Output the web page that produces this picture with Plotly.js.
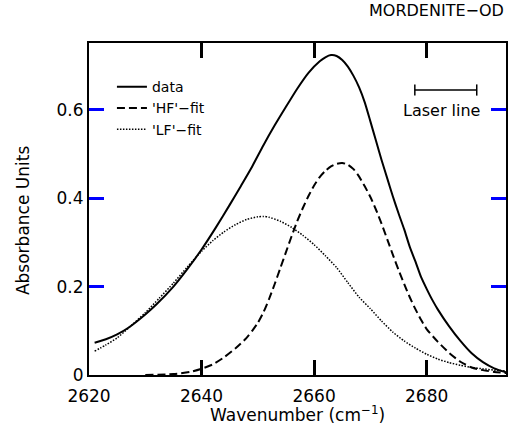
<!DOCTYPE html>
<html>
<head>
<meta charset="utf-8">
<script src="https://cdn.plot.ly/plotly-3.0.1.min.js"></script>
<style>html,body{margin:0;padding:0;background:#fff;}#chart{width:509px;height:424px;}</style>
</head>
<body>
<div id="chart"></div>
<script>
// Measured spectrum (solid)
const dataX = [2621, 2623, 2625, 2627, 2630, 2632, 2635, 2637.5, 2640, 2642.5, 2645, 2647, 2649, 2651, 2653, 2655, 2657, 2659, 2661, 2662, 2663, 2664, 2665, 2666, 2667, 2668, 2669, 2670, 2671, 2672, 2673, 2674, 2675, 2676, 2677, 2678, 2679, 2680, 2681, 2682, 2684, 2686, 2688, 2690, 2692, 2694.4];
const dataY = [0.073, 0.081, 0.092, 0.107, 0.137, 0.160, 0.200, 0.240, 0.284, 0.333, 0.385, 0.428, 0.472, 0.520, 0.565, 0.607, 0.648, 0.684, 0.710, 0.719, 0.724, 0.722, 0.713, 0.698, 0.677, 0.651, 0.617, 0.574, 0.530, 0.486, 0.445, 0.404, 0.366, 0.330, 0.290, 0.257, 0.222, 0.195, 0.170, 0.148, 0.110, 0.077, 0.049, 0.029, 0.015, 0.005];
// 'HF'-fit (dashed)
const hfX = [2630, 2635, 2638, 2640, 2642, 2644, 2646, 2648, 2649, 2650, 2651, 2652, 2653, 2654, 2655, 2656, 2657, 2658, 2659, 2660, 2661, 2662, 2663, 2664, 2665, 2666, 2667, 2668, 2669, 2670, 2671, 2672, 2673, 2674, 2675, 2676, 2677, 2678, 2679, 2680, 2682, 2684, 2686, 2688, 2690, 2692, 2694.4];
const hfY = [0.000, 0.002, 0.007, 0.014, 0.024, 0.040, 0.060, 0.084, 0.100, 0.118, 0.142, 0.172, 0.206, 0.242, 0.278, 0.314, 0.348, 0.378, 0.405, 0.429, 0.448, 0.462, 0.472, 0.478, 0.480, 0.476, 0.466, 0.449, 0.427, 0.403, 0.374, 0.342, 0.307, 0.272, 0.238, 0.206, 0.176, 0.149, 0.125, 0.104, 0.075, 0.050, 0.030, 0.017, 0.011, 0.007, 0.004];
// 'LF'-fit (dotted)
const lfX = [2621, 2623, 2625, 2627, 2630, 2632.5, 2635, 2637.5, 2640, 2642, 2644, 2646, 2648, 2650, 2651, 2652, 2654, 2656, 2658, 2660, 2662, 2664, 2666, 2668, 2670, 2672, 2674, 2676, 2678, 2680, 2682, 2684, 2686, 2688, 2690, 2692, 2694.4];
const lfY = [0.054, 0.068, 0.084, 0.106, 0.141, 0.174, 0.208, 0.245, 0.280, 0.304, 0.324, 0.340, 0.352, 0.358, 0.359, 0.357, 0.348, 0.334, 0.316, 0.295, 0.270, 0.243, 0.209, 0.176, 0.150, 0.122, 0.097, 0.077, 0.061, 0.047, 0.036, 0.028, 0.022, 0.017, 0.014, 0.011, 0.009];
// Laser line width marker
const laserX = [2677.9, 2688.9];
const laserY = [0.645, 0.645];
const laserLabel = 'Laser line';
const laserLabelX = 2682.6;
const laserLabelY = 0.598;

// Axis ticks
const xRange = [2620, 2694.1];
const yRange = [0, 0.7514];
const xMajorTicks = [2620, 2640, 2660, 2680];
const yMajorTicks = [0, 0.2, 0.4, 0.6];

const FONT = 'DejaVu Sans, sans-serif';

const traces = [
  {x: dataX, y: dataY, name: 'data', mode: 'lines', line: {color: '#000', width: 2, shape: 'spline', smoothing: 0.6}},
  {x: hfX, y: hfY, name: "'HF'\u2212fit", mode: 'lines', line: {color: '#000', width: 2, dash: '8px,4px', shape: 'spline', smoothing: 0.6}},
  {x: lfX, y: lfY, name: "'LF'\u2212fit", mode: 'lines', line: {color: '#000', width: 1.5, dash: '1.5px,1.5px', shape: 'spline', smoothing: 0.6}},
  {x: laserX, y: laserY, mode: 'lines+markers', showlegend: false, line: {color: '#000', width: 1.5},
   marker: {symbol: 'line-ns', size: 8, color: '#000', line: {color: '#000', width: 1.5}}}
];

const layout = {
  width: 509, height: 424,
  margin: {l: 89, r: 3, t: 43, b: 49},
  paper_bgcolor: '#fff', plot_bgcolor: '#fff',
  font: {family: FONT, color: '#000'},
  showlegend: true,
  legend: {x: 0.055, y: 0.915, xanchor: 'left', yanchor: 'top', bgcolor: 'rgba(0,0,0,0)',
           font: {family: FONT, size: 14, color: '#000'}, tracegroupgap: 0},
  xaxis: {
    showgrid: false, zeroline: false, showline: true, linecolor: '#000', linewidth: 2,
    ticks: 'inside', ticklen: 15, tickwidth: 3, tickcolor: '#000', mirror: 'ticks',
    ticklabelstandoff: 5,
    tickfont: {family: FONT, size: 17, color: '#000'},
    range: xRange, tickmode: 'array', tickvals: xMajorTicks
  },
  yaxis: {
    showgrid: false, zeroline: false, showline: true, linecolor: '#000', linewidth: 2,
    ticks: 'inside', ticklen: 15, tickwidth: 3, tickcolor: 'blue', mirror: 'ticks',
    tickfont: {family: FONT, size: 17, color: '#000'},
    range: yRange, tickmode: 'array', tickvals: yMajorTicks
  },
  annotations: [
    {text: 'Wavenumber (cm<sup>\u22121</sup>)', xref: 'paper', yref: 'paper', x: 0.5, y: -0.1175,
     xanchor: 'center', yanchor: 'middle', showarrow: false, font: {family: FONT, size: 17, color: '#000'}},
    {text: 'Absorbance Units', xref: 'paper', yref: 'paper', x: -0.158, y: 0.464, textangle: -90,
     xanchor: 'center', yanchor: 'middle', showarrow: false, font: {family: FONT, size: 17, color: '#000'}},
    {text: 'MORDENITE\u2212OD', xref: 'paper', yref: 'paper', x: 1, y: 1.098,
     xanchor: 'right', yanchor: 'middle', showarrow: false, font: {family: FONT, size: 16, color: '#000'}},
    {text: laserLabel, xref: 'x', yref: 'y', x: laserLabelX, y: laserLabelY,
     xanchor: 'center', yanchor: 'middle', showarrow: false, font: {family: FONT, size: 16, color: '#000'}}
  ]
};

Plotly.newPlot('chart', traces, layout, {displayModeBar: false, staticPlot: true});
</script>
</body>
</html>
